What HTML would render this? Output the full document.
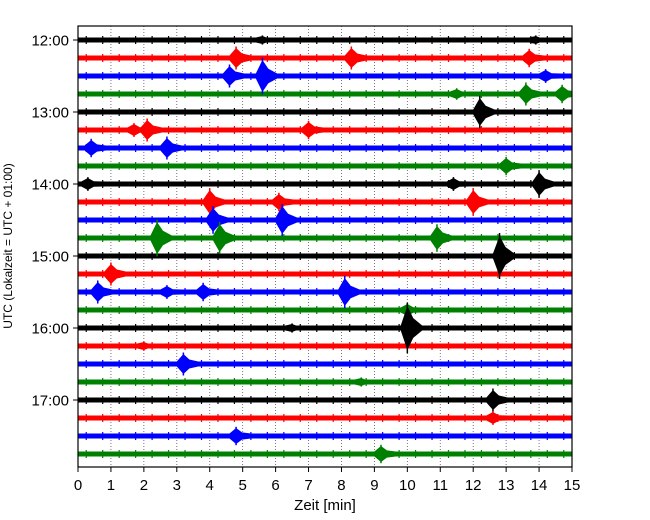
<!DOCTYPE html>
<html><head><meta charset="utf-8"><style>
body{margin:0;background:#fff}
svg{display:block;font-family:"Liberation Sans","DejaVu Sans",sans-serif}
</style></head><body>
<svg id="chart" width="650" height="520">
<defs><clipPath id="plotclip"><rect x="78" y="26" width="494" height="441"/></clipPath></defs>
<rect x="0" y="0" width="650" height="520" fill="#fff"/>
<g id="grid"></g>
<g id="traces" clip-path="url(#plotclip)"></g>
<rect x="78" y="26" width="494" height="441" fill="none" stroke="#000" stroke-width="1.2"/>
<g id="xaxis"></g>
<g id="yaxis"></g>
<text x="325" y="510" font-size="15" text-anchor="middle">Zeit  [min]</text>
<text transform="translate(12,246) rotate(-90)" font-size="12" text-anchor="middle">UTC (Lokalzeit = UTC + 01:00)</text>
</svg>
<script>
const xTicks=[0,1,2,3,4,5,6,7,8,9,10,11,12,13,14,15];
const hourLabels=["12:00","13:00","14:00","15:00","16:00","17:00"];
const traceColors=["#000000","#ff0000","#0000ff","#008000"];
const traceCount=24;
// events: trace index, minute, amplitude (relative)
const evTrace=[1,1,1,2,2,2,3,3,3,4,5,5,5,6,6,7,8,8,8,9,9,9,10,10,11,11,11,12,13,14,14,14,14,15,16,16,17,18,19,20,21,22,23,0,0];
const evMinute=[4.8,8.3,13.7,4.6,5.6,14.2,13.6,14.7,11.5,12.2,2.1,7.0,1.7,0.4,2.7,13.0,0.3,11.4,14.0,4.0,6.1,12.0,4.1,6.2,2.4,4.3,10.9,12.8,1.0,0.6,2.7,3.8,8.1,10.0,10.0,6.5,2.0,3.2,8.6,12.6,12.6,4.8,9.2,5.6,13.9];
const evAmp=[10,10,8,10,16,6,10,8,5,14,10,8,6,8,10,8,6,6,12,12,8,12,12,14,16,14,12,20,10,10,6,8,14,6,22,4,4,10,4,10,6,8,8,4,4];

const NS="http://www.w3.org/2000/svg";
const X0=78,X1=572,Y0=40,DY=18;
const xs=m=>X0+(X1-X0)*m/15;
const ys=i=>Y0+DY*i;
function mk(tag,attrs,parent){const e=document.createElementNS(NS,tag);for(const k in attrs)e.setAttribute(k,attrs[k]);parent.appendChild(e);return e;}
const grid=document.getElementById('grid'),tr=document.getElementById('traces'),xa=document.getElementById('xaxis'),ya=document.getElementById('yaxis');
xTicks.forEach(t=>{
  if(t>0&&t<15){const l=mk('line',{x1:xs(t),x2:xs(t),y1:26,y2:467,stroke:'#555','stroke-width':0.8,'stroke-dasharray':'1,2'},grid);
  
  }
  const tk=mk('line',{x1:xs(t),x2:xs(t),y1:467,y2:472,stroke:'#000'},xa);
  
  
  const tx=mk('text',{x:xs(t),y:490,'font-size':15,'text-anchor':'middle'},xa);tx.textContent=t;
  
  
});
hourLabels.forEach((h,i)=>{
  const y=ys(i*4);
  const tk=mk('line',{x1:73,x2:78,y1:y,y2:y,stroke:'#000'},ya);
  
  
  const tx=mk('text',{x:69,y:y+5.5,'font-size':15,'text-anchor':'end'},ya);tx.textContent=h;
  
  
});
for(let i=0;i<traceCount;i++){
  const c=traceColors[i%4];
  const r=mk('rect',{x:X0,y:ys(i)-2.5,width:X1-X0,height:5,fill:c},tr);
  
  
  for(let m=0.25;m<15;m+=0.5){
    const n=mk('line',{x1:xs(m),x2:xs(m),y1:ys(i)-4,y2:ys(i)+4,stroke:c,'stroke-width':1.2},tr);
    
    
  }
}
evTrace.forEach((ti,k)=>{
  const c=traceColors[ti%4],y=ys(ti),x=xs(evMinute[k]),a=evAmp[k];
  const w=xs(0.2)-X0,w2=xs(0.45)-X0;
  const pts=[[x-w,y-2.5],[x,y-a],[x+w2*0.4,y-a*0.45],[x+w2,y-2.5],[x+w2,y+2.5],[x+w2*0.4,y+a*0.45],[x,y+a],[x-w,y+2.5]];
  const p=mk('polygon',{points:pts.map(q=>q.join(',')).join(' '),fill:c},tr);
  
  
  const s=mk('line',{x1:x,x2:x,y1:y-a*1.15,y2:y+a*1.15,stroke:c,'stroke-width':1.5},tr);
  
  
});
</script>
</body></html>
